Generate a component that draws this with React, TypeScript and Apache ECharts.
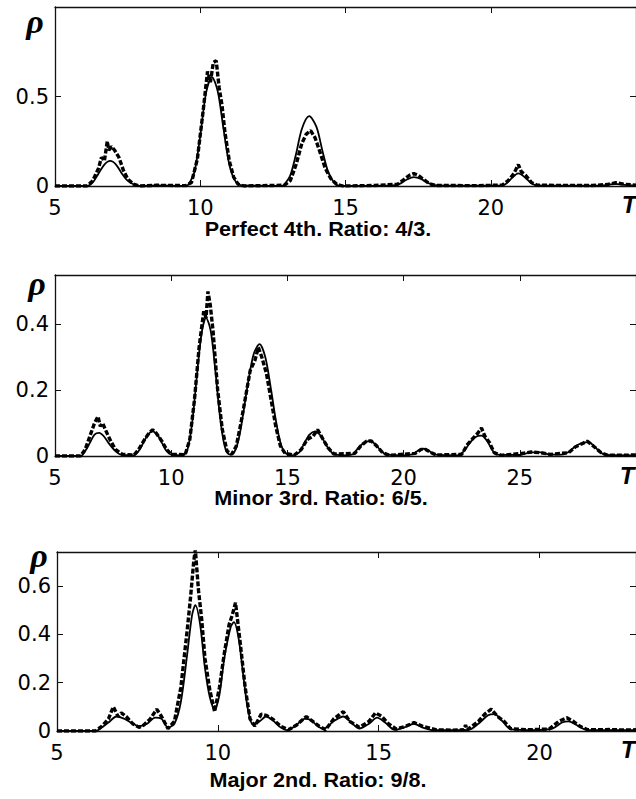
import React, { useEffect, useRef } from "react";
import * as echarts from "echarts";

// ---------- data (x = T, y = rho) ----------
const p1Solid: [number, number][] = [
  [5, 0], [6.1, 0], [6.3, 0.02], [6.5, 0.07], [6.7, 0.12], [6.9, 0.14], [7.1, 0.12], [7.3, 0.07], [7.5, 0.03], [7.7, 0.01], [7.9, 0],
  [8.5, 0.003], [9.0, 0.002], [9.5, 0], [9.6, 0.01], [9.8, 0.08], [10.0, 0.28], [10.2, 0.52], [10.4, 0.61], [10.6, 0.53], [10.8, 0.32],
  [11.0, 0.12], [11.2, 0.03], [11.4, 0.005], [12.0, 0.002], [12.8, 0], [12.9, 0.01], [13.1, 0.06], [13.3, 0.18], [13.5, 0.32], [13.75, 0.39],
  [14.0, 0.33], [14.2, 0.2], [14.4, 0.08], [14.6, 0.02], [14.8, 0], [15.5, 0], [16.3, 0.002], [16.7, 0.005], [16.9, 0.015], [17.1, 0.035],
  [17.35, 0.05], [17.6, 0.04], [17.8, 0.02], [18.05, 0.005], [19, 0.002], [20.3, 0.002], [20.5, 0.01], [20.7, 0.04], [20.95, 0.07],
  [21.2, 0.045], [21.4, 0.015], [21.6, 0.003], [22.5, 0.002], [23.7, 0.002], [24.0, 0.006], [24.3, 0.012], [24.6, 0.006], [25, 0.003],
];
const p1Dashed: [number, number][] = [
  [5, 0], [6.1, 0], [6.3, 0.03], [6.5, 0.1], [6.6, 0.16], [6.7, 0.14], [6.8, 0.25], [6.85, 0.2], [6.95, 0.22], [7.05, 0.2], [7.2, 0.16],
  [7.35, 0.09], [7.5, 0.04], [7.7, 0.01], [7.9, 0], [8.5, 0.004], [9.5, 0.002], [9.7, 0.02], [9.9, 0.15], [10.1, 0.42], [10.25, 0.64],
  [10.35, 0.58], [10.45, 0.69], [10.55, 0.7], [10.65, 0.55], [10.75, 0.45], [10.85, 0.3], [11.0, 0.14], [11.15, 0.05], [11.3, 0.01],
  [11.5, 0], [12.5, 0.003], [12.9, 0.005], [13.1, 0.03], [13.3, 0.12], [13.5, 0.24], [13.65, 0.29], [13.8, 0.31], [13.95, 0.27],
  [14.1, 0.2], [14.3, 0.1], [14.5, 0.04], [14.7, 0.01], [14.9, 0], [16.0, 0.003], [16.8, 0.01], [17.0, 0.035], [17.2, 0.06], [17.35, 0.07],
  [17.5, 0.06], [17.7, 0.035], [17.9, 0.012], [18.1, 0.003], [19.5, 0.002], [20.4, 0.005], [20.6, 0.03], [20.8, 0.07], [20.95, 0.12],
  [21.05, 0.08], [21.2, 0.06], [21.4, 0.02], [21.6, 0.004], [23.5, 0.003], [24.0, 0.008], [24.3, 0.018], [24.6, 0.01], [25, 0.004],
];

const p2Solid: [number, number][] = [
  [5, 0], [6.1, 0], [6.3, 0.015], [6.5, 0.04], [6.7, 0.065], [6.9, 0.07], [7.1, 0.06], [7.3, 0.04], [7.6, 0.015], [7.9, 0.003],
  [8.4, 0.002], [8.6, 0.015], [8.8, 0.04], [9.0, 0.065], [9.2, 0.075], [9.4, 0.065], [9.6, 0.04], [9.8, 0.015], [10.0, 0.004],
  [10.5, 0.002], [10.7, 0.02], [10.9, 0.1], [11.1, 0.24], [11.3, 0.37], [11.5, 0.42], [11.7, 0.38], [11.9, 0.26], [12.1, 0.12],
  [12.3, 0.03], [12.5, 0.005], [12.7, 0.01], [12.9, 0.05], [13.1, 0.13], [13.3, 0.22], [13.55, 0.31], [13.8, 0.34], [14.05, 0.3],
  [14.3, 0.2], [14.5, 0.11], [14.7, 0.04], [14.9, 0.01], [15.2, 0.002], [15.5, 0.01], [15.7, 0.035], [15.95, 0.065], [16.2, 0.075],
  [16.45, 0.06], [16.7, 0.03], [16.95, 0.008], [17.3, 0.002], [17.8, 0.005], [18.0, 0.02], [18.25, 0.038], [18.5, 0.045], [18.75, 0.038],
  [19.0, 0.018], [19.25, 0.004], [20.0, 0.002], [20.4, 0.006], [20.6, 0.015], [20.85, 0.022], [21.1, 0.015], [21.35, 0.004],
  [22.3, 0.002], [22.6, 0.015], [22.85, 0.04], [23.1, 0.058], [23.35, 0.062], [23.6, 0.045], [23.8, 0.02], [24.0, 0.004], [25, 0.003],
  [25.4, 0.01], [25.8, 0.012], [26.2, 0.006], [26.8, 0.004], [27.1, 0.012], [27.4, 0.03], [27.7, 0.04], [27.95, 0.042], [28.2, 0.03],
  [28.45, 0.012], [28.7, 0.003], [30, 0.002],
];
const p2Dashed: [number, number][] = [
  [5, 0], [6.1, 0], [6.3, 0.02], [6.5, 0.06], [6.7, 0.1], [6.85, 0.12], [6.95, 0.09], [7.05, 0.1], [7.2, 0.075], [7.4, 0.045],
  [7.6, 0.02], [7.9, 0.005], [8.4, 0.003], [8.6, 0.02], [8.85, 0.05], [9.05, 0.07], [9.2, 0.08], [9.35, 0.07], [9.6, 0.045], [9.8, 0.02],
  [10.0, 0.005], [10.6, 0.004], [10.8, 0.05], [11.0, 0.17], [11.2, 0.33], [11.4, 0.44], [11.5, 0.42], [11.58, 0.5], [11.68, 0.46],
  [11.8, 0.38], [12.0, 0.2], [12.2, 0.08], [12.4, 0.015], [12.6, 0.005], [12.8, 0.03], [13.0, 0.1], [13.2, 0.18], [13.4, 0.26],
  [13.6, 0.29], [13.75, 0.33], [13.9, 0.3], [14.1, 0.25], [14.3, 0.17], [14.5, 0.09], [14.7, 0.03], [14.9, 0.008], [15.3, 0.003],
  [15.6, 0.02], [15.85, 0.05], [16.1, 0.06], [16.3, 0.08], [16.5, 0.055], [16.75, 0.025], [17.0, 0.006], [17.9, 0.008], [18.15, 0.03],
  [18.4, 0.045], [18.6, 0.046], [18.85, 0.03], [19.1, 0.01], [19.4, 0.002], [20.5, 0.008], [20.75, 0.02], [20.95, 0.02], [21.2, 0.01],
  [21.4, 0.003], [22.5, 0.005], [22.75, 0.035], [23.0, 0.055], [23.2, 0.07], [23.35, 0.085], [23.5, 0.06], [23.7, 0.04], [23.9, 0.01],
  [24.2, 0.002], [25.1, 0.008], [25.5, 0.012], [25.9, 0.01], [26.3, 0.005], [27.1, 0.01], [27.4, 0.028], [27.7, 0.038], [27.9, 0.045],
  [28.2, 0.028], [28.5, 0.01], [28.8, 0.002], [30, 0.003],
];

const p3Solid: [number, number][] = [
  [5, 0], [6.2, 0], [6.4, 0.015], [6.6, 0.035], [6.85, 0.06], [7.1, 0.05], [7.3, 0.035], [7.55, 0.02], [7.8, 0.03], [8.05, 0.055],
  [8.25, 0.05], [8.45, 0.015], [8.65, 0.03], [8.85, 0.12], [9.05, 0.32], [9.2, 0.48], [9.3, 0.52], [9.45, 0.44], [9.6, 0.26],
  [9.75, 0.14], [9.9, 0.09], [10.05, 0.15], [10.2, 0.3], [10.4, 0.43], [10.5, 0.45], [10.65, 0.38], [10.8, 0.22], [10.95, 0.08],
  [11.1, 0.025], [11.3, 0.04], [11.5, 0.06], [11.7, 0.045], [11.95, 0.015], [12.15, 0.003], [12.4, 0.02], [12.7, 0.05], [12.9, 0.045],
  [13.1, 0.02], [13.3, 0.01], [13.6, 0.04], [13.9, 0.06], [14.15, 0.035], [14.4, 0.01], [14.7, 0.03], [14.95, 0.055], [15.2, 0.035],
  [15.5, 0.005], [15.8, 0.015], [16.1, 0.03], [16.35, 0.015], [16.7, 0.003], [17.3, 0.003], [17.8, 0.005], [18.1, 0.03], [18.4, 0.065],
  [18.6, 0.07], [18.85, 0.04], [19.1, 0.008], [19.8, 0.004], [20.4, 0.01], [20.7, 0.035], [20.9, 0.04], [21.15, 0.025], [21.45, 0.005],
  [22.2, 0.003], [23, 0.003],
];
const p3Dashed: [number, number][] = [
  [5, 0], [6.2, 0], [6.4, 0.02], [6.6, 0.05], [6.75, 0.1], [6.9, 0.06], [7.0, 0.075], [7.15, 0.06], [7.35, 0.03], [7.55, 0.015],
  [7.7, 0.025], [7.9, 0.05], [8.1, 0.09], [8.25, 0.06], [8.45, 0.01], [8.65, 0.04], [8.85, 0.18], [9.05, 0.42], [9.15, 0.55],
  [9.25, 0.7], [9.3, 0.75], [9.4, 0.58], [9.5, 0.46], [9.6, 0.3], [9.75, 0.17], [9.9, 0.08], [10.05, 0.18], [10.2, 0.32], [10.35, 0.44],
  [10.45, 0.48], [10.55, 0.53], [10.7, 0.36], [10.85, 0.18], [11.0, 0.05], [11.15, 0.02], [11.35, 0.07], [11.5, 0.065], [11.7, 0.05],
  [11.95, 0.02], [12.2, 0.005], [12.45, 0.025], [12.75, 0.06], [12.95, 0.04], [13.15, 0.02], [13.35, 0.005], [13.6, 0.05], [13.9, 0.08],
  [14.1, 0.04], [14.4, 0.015], [14.7, 0.04], [14.9, 0.075], [15.1, 0.06], [15.3, 0.03], [15.55, 0.008], [15.85, 0.02], [16.1, 0.035],
  [16.35, 0.02], [16.8, 0.005], [17.3, 0.003], [17.65, 0.005], [17.7, 0.025], [17.75, 0.005], [18.1, 0.04], [18.3, 0.07], [18.5, 0.09],
  [18.7, 0.06], [18.9, 0.04], [19.1, 0.01], [19.6, 0.005], [20.3, 0.008], [20.6, 0.04], [20.85, 0.055], [21.05, 0.04], [21.25, 0.02],
  [21.5, 0.005], [22.2, 0.006], [22.6, 0.004], [23, 0.005],
];

const captions = ["Perfect 4th. Ratio: 4/3.", "Minor 3rd. Ratio: 6/5.", "Major 2nd. Ratio: 9/8."];
const xRanges: [number, number][] = [[5, 25], [5, 30], [5, 23]];
const yRanges: [number, number][] = [[0, 1], [0, 0.55], [0, 0.74]];
const yIntervals = [0.5, 0.2, 0.2];
const xInterval = 5;

const panels = [
  { solid: p1Solid, dashed: p1Dashed },
  { solid: p2Solid, dashed: p2Dashed },
  { solid: p3Solid, dashed: p3Dashed },
];

// layout
const grids = [
  { left: 55, top: 7, width: 583, height: 179 },
  { left: 55, top: 275, width: 583, height: 181 },
  { left: 57, top: 552, width: 582, height: 179 },
];
const rhoPos = [[35, 21], [37, 283], [39, 555]];
const tPos = [[629, 204], [627, 475], [628, 749]];
const capPos = [[318, 229], [321, 498], [318, 780]];

const TICK_FONT = "'DejaVu Sans', Arial, sans-serif";
const CAP_FONT = "'Liberation Sans', Arial, sans-serif";

export default function App() {
  const ref = useRef<HTMLDivElement>(null);
  useEffect(() => {
    document.body.style.margin = "0";
    document.body.style.overflow = "hidden";
    const chart = echarts.init(ref.current!, null, { renderer: "svg" });
    const lineCol = "#111";
    const xAxes: any[] = [];
    const yAxes: any[] = [];
    const series: any[] = [];
    grids.forEach((g, i) => {
      const [xmin, xmax] = xRanges[i];
      const [ymin, ymax] = yRanges[i];
      xAxes.push({
        type: "value", gridIndex: i, position: "bottom", min: xmin, max: xmax, interval: xInterval,
        axisLine: { show: true, onZero: false, lineStyle: { color: lineCol, width: 1.3 } },
        axisTick: { show: true, inside: true, length: 6, lineStyle: { color: lineCol } },
        axisLabel: { show: true, showMaxLabel: false, margin: 11, color: "#000", fontSize: 21, fontFamily: TICK_FONT },
        splitLine: { show: false },
      });
      xAxes.push({
        type: "value", gridIndex: i, position: "top", min: xmin, max: xmax, interval: xInterval,
        axisLine: { show: true, onZero: false, lineStyle: { color: lineCol, width: 1.3 } },
        axisTick: { show: true, inside: true, length: 6, lineStyle: { color: lineCol } },
        axisLabel: { show: false },
        splitLine: { show: false },
      });
      yAxes.push({
        type: "value", gridIndex: i, position: "left", min: ymin, max: ymax, interval: yIntervals[i],
        axisLine: { show: true, onZero: false, lineStyle: { color: lineCol, width: 1.3 } },
        axisTick: { show: true, inside: true, length: 6, lineStyle: { color: lineCol } },
        axisLabel: {
          show: true, margin: 6, color: "#000", fontSize: 21, fontFamily: TICK_FONT, showMaxLabel: false,
          formatter: (v: number) => String(Math.round(v * 100) / 100),
        },
        splitLine: { show: false },
      });
      yAxes.push({
        type: "value", gridIndex: i, position: "right", min: ymin, max: ymax, interval: yIntervals[i],
        axisLine: { show: true, onZero: false, lineStyle: { color: lineCol, width: 1.3 } },
        axisTick: { show: true, inside: true, length: 6, lineStyle: { color: lineCol } },
        axisLabel: { show: false },
        splitLine: { show: false },
      });
      series.push({
        type: "line", xAxisIndex: i * 2, yAxisIndex: i * 2, data: panels[i].solid,
        showSymbol: false, smooth: 0.3, clip: true,
        lineStyle: { color: "#000", width: 1.8 },
      });
      series.push({
        type: "line", xAxisIndex: i * 2, yAxisIndex: i * 2, data: panels[i].dashed,
        showSymbol: false, clip: true,
        lineStyle: { color: "#000", width: 3.4, type: [5, 2] },
      });
    });

    const graphic: any[] = [];
    grids.forEach((_, i) => {
      graphic.push({
        type: "text", x: rhoPos[i][0], y: rhoPos[i][1],
        style: {
          text: "ρ", fill: "#000", fontSize: 34, fontStyle: "italic", fontWeight: "bold",
          fontFamily: "'Liberation Serif', 'DejaVu Serif', serif", textAlign: "center", textVerticalAlign: "middle",
        },
      });
      graphic.push({
        type: "text", x: tPos[i][0], y: tPos[i][1],
        style: {
          text: "T", fill: "#000", fontSize: 24, fontStyle: "italic", fontWeight: "bold",
          fontFamily: CAP_FONT, textAlign: "center", textVerticalAlign: "middle",
        },
      });
      graphic.push({
        type: "text", x: capPos[i][0], y: capPos[i][1], scaleX: 1.08,
        style: {
          text: captions[i], fill: "#000", fontSize: 20, fontWeight: "bold",
          fontFamily: CAP_FONT, textAlign: "center", textVerticalAlign: "middle",
        },
      });
    });

    chart.setOption({
      animation: false,
      backgroundColor: "#fff",
      grid: grids.map((g) => ({ ...g, containLabel: false })),
      xAxis: xAxes,
      yAxis: yAxes,
      series,
      graphic,
    });
    return () => chart.dispose();
  }, []);
  return <div ref={ref} style={{ width: 636, height: 799 }} />;
}
